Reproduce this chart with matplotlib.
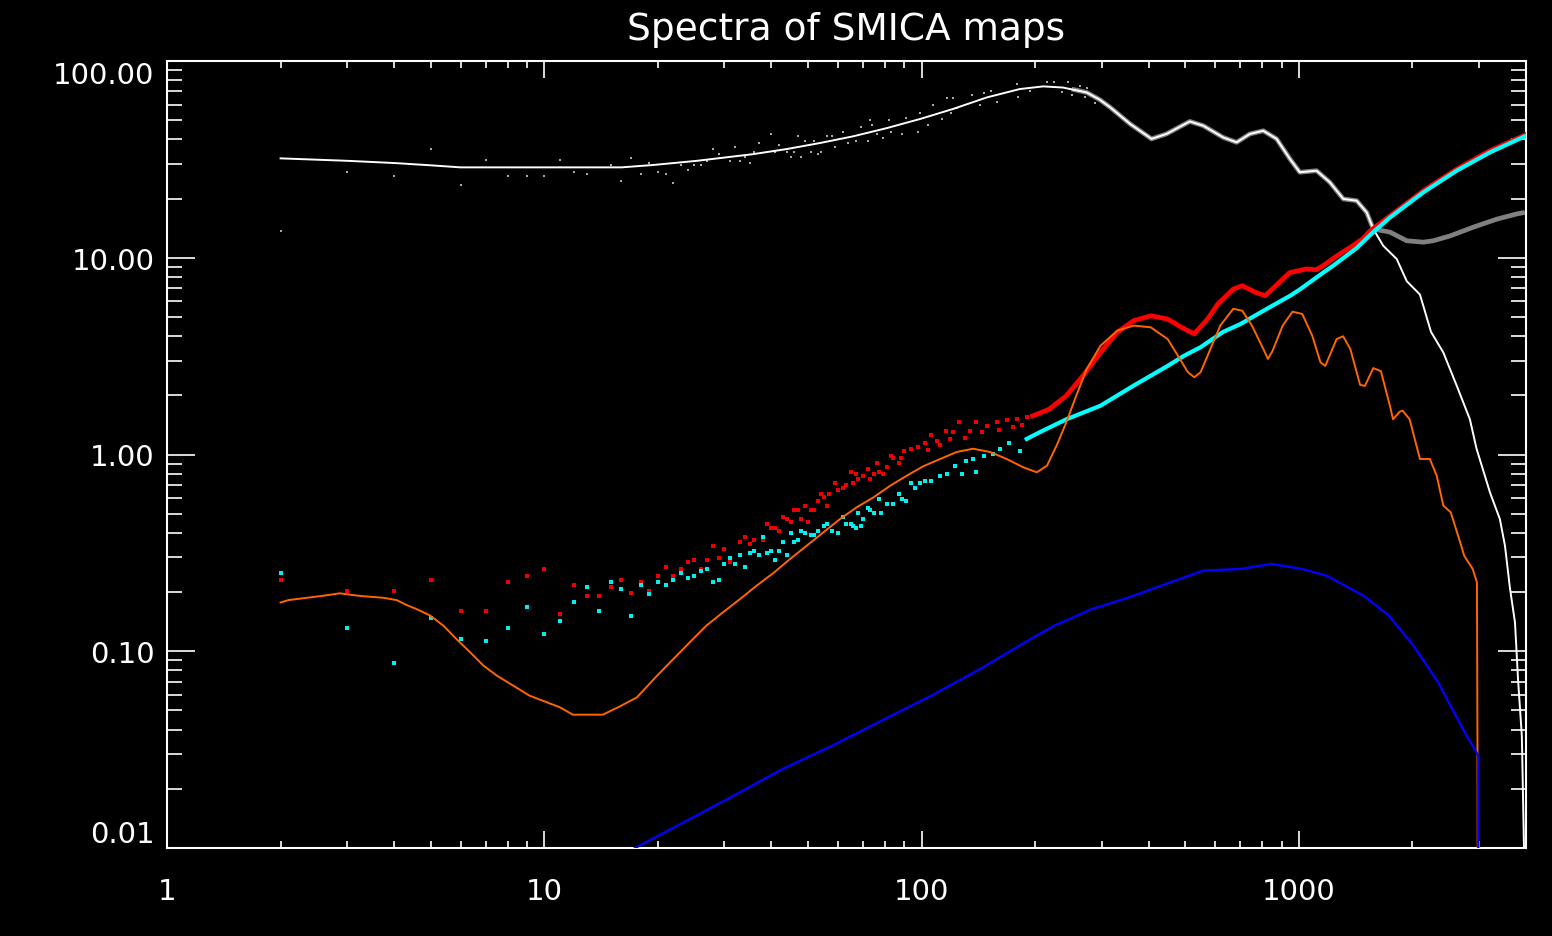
import matplotlib
matplotlib.use("Agg")
import matplotlib.pyplot as plt
from matplotlib.ticker import FixedLocator, NullFormatter, LogLocator

# ---------------- data ----------------
# TT theory (white line)
tt_theory_ell = [2, 3, 4, 5, 6, 10, 16, 19.4, 25.4, 29.2, 35.7, 44, 53.8, 65.8, 80.9, 99, 121, 149,
                 182, 210, 237, 274, 297, 316, 357, 407, 446, 514, 558, 630, 684, 742, 805, 873,
                 947, 1006, 1114, 1208, 1312, 1423, 1513, 1575, 1674, 1817, 1932, 2094, 2240, 2415,
                 2620, 2840, 2958, 3209, 3410, 3518, 3626, 3740, 3810, 3900, 3935, 3960]
tt_theory_val = [32.0, 31.1, 30.3, 29.5, 28.8, 28.8, 28.8, 29.6, 31.1, 32.1, 33.6, 35.7, 38.3, 41.4,
                 45.6, 50.7, 57.0, 65.3, 72.0, 74.3, 73.3, 69.2, 63.5, 58.2, 47.9, 40.2, 42.6, 49.3,
                 46.9, 40.9, 38.6, 42.6, 44.2, 40.2, 31.8, 27.2, 27.7, 24.2, 19.9, 19.5, 17.0, 14.0,
                 11.5, 9.86, 7.6, 6.5, 4.2, 3.3, 2.24, 1.51, 1.07, 0.643, 0.47, 0.344, 0.21, 0.14,
                 0.072, 0.037, 0.0152, 0.008]

# TT data, low-ell scattered points (grey dots)
tt_data_ell = [2, 3, 4, 5, 6, 7, 8, 9, 10, 11, 12, 13, 15, 16, 17, 18, 19, 20, 21, 22, 23, 24, 25,
               26, 27, 28, 29, 31, 32, 33, 34, 35, 36, 37, 40, 41, 42, 44, 45, 46, 47, 48, 49, 51,
               52, 53, 54, 56, 58, 59, 62, 64, 67, 69, 72, 73, 74, 76, 79, 82, 83, 89, 91, 98, 99,
               104, 107, 113, 117, 120, 121, 124, 136, 143, 146, 153, 158, 179, 180, 194, 215,
               224, 235, 245, 250, 263, 271, 274, 289]
tt_data_val = [13.7, 27.4, 25.9, 35.7, 23.4, 31.3, 25.9, 25.9, 25.9, 31.3, 27.4, 26.7, 29.6, 24.6,
               32.0, 26.5, 30.3, 27.4, 26.5, 23.9, 29.6, 28.0, 29.6, 29.6, 31.0, 35.7, 33.6, 31.1,
               36.4, 31.1, 32.7, 30.3, 34.6, 38.3, 42.6, 34.6, 37.4, 34.6, 32.7, 34.6, 41.4, 32.7,
               39.4, 34.6, 39.4, 33.6, 34.6, 41.4, 41.4, 36.4, 43.7, 38.3, 39.4, 46.0, 39.4, 50.0,
               47.3, 42.6, 40.5, 50.0, 43.7, 42.6, 51.1, 43.7, 54.1, 47.3, 60.1, 50.7, 65.1, 54.1,
               65.1, 58.0, 67.2, 60.1, 68.7, 70.6, 61.6, 76.4, 65.3, 70.6, 78.4, 77.8, 69.2, 78.4,
               67.2, 74.8, 65.3, 73.3, 61.1]

# TT data, dense high-ell band (grey)
tt_band_ell = [250, 274, 297, 316, 357, 407, 446, 514, 558, 630, 684, 742, 805, 873, 947, 1006,
               1114, 1208, 1312, 1423, 1513, 1575, 1674, 1743, 1932, 2137, 2271, 2514, 2900, 3343,
               3780, 3970]
tt_band_val = [72.0, 69.2, 63.5, 58.2, 47.9, 40.2, 42.6, 49.3, 46.9, 40.9, 38.6, 42.6, 44.2, 40.2,
               31.8, 27.2, 27.7, 24.2, 19.9, 19.5, 17.0, 14.0, 13.7, 13.5, 12.2, 12.0, 12.2, 12.9,
               14.3, 15.7, 16.7, 17.0]

# red data points (low ell)
red_ell = [2, 3, 4, 5, 6, 7, 8, 9, 10, 11, 12, 13, 14, 15, 16, 17, 18, 19, 20, 21, 22, 23, 24, 25,
           26, 27, 28, 29, 30, 31, 33, 34, 35, 36, 38, 39, 40, 41, 42, 43, 44, 45, 46, 47, 48, 49,
           50, 51, 52, 53, 54, 55, 56, 57, 59, 60, 62, 63, 65, 66, 67, 68, 70, 72, 73, 75, 76, 77,
           79, 81, 83, 84, 87, 88, 90, 94, 98, 102, 104, 106, 110, 112, 116, 119, 121, 126, 130,
           134, 139, 145, 149, 158, 160, 168, 175, 179, 185, 190]
red_val = [0.230, 0.202, 0.202, 0.230, 0.160, 0.160, 0.224, 0.242, 0.263, 0.155, 0.218, 0.191,
           0.191, 0.213, 0.230, 0.197, 0.224, 0.202, 0.242, 0.269, 0.242, 0.262, 0.284, 0.291,
           0.262, 0.291, 0.341, 0.299, 0.332, 0.284, 0.359, 0.379, 0.351, 0.369, 0.369, 0.443,
           0.421, 0.421, 0.410, 0.481, 0.469, 0.455, 0.520, 0.520, 0.469, 0.550, 0.455, 0.520,
           0.520, 0.578, 0.628, 0.611, 0.550, 0.628, 0.716, 0.662, 0.678, 0.697, 0.818, 0.716,
           0.795, 0.753, 0.774, 0.841, 0.753, 0.795, 0.908, 0.818, 0.795, 0.861, 0.982, 0.957,
           0.908, 0.957, 1.04, 1.07, 1.09, 1.15, 1.05, 1.25, 1.17, 1.12, 1.32, 1.20, 1.30, 1.46,
           1.22, 1.32, 1.46, 1.30, 1.40, 1.46, 1.33, 1.49, 1.38, 1.51, 1.42, 1.55]

# red dense band (mid/high ell)
red_band_ell = [197, 218, 242, 268, 298, 330, 365, 405, 449, 497, 528, 573, 610, 670, 708, 768,
                814, 869, 945, 1046, 1112, 1160, 1259, 1369, 1478, 1537, 1743, 2137, 2620, 3209,
                3970]
red_band_val = [1.57, 1.70, 1.99, 2.52, 3.30, 4.18, 4.79, 5.07, 4.88, 4.35, 4.10, 4.88, 5.82, 6.93,
                7.21, 6.67, 6.41, 7.21, 8.40, 8.77, 8.70, 9.12, 10.2, 11.3, 12.5, 13.6, 16.3, 21.9,
                28.2, 35.0, 42.0]

# cyan data points (low ell)
cyan_ell = [2, 3, 4, 5, 6, 7, 8, 9, 10, 11, 12, 13, 14, 15, 16, 17, 18, 19, 20, 21, 22, 23, 24,
            25, 26, 27, 28, 29, 30, 31, 32, 33, 34, 35, 36, 37, 38, 39, 40, 41, 42, 43, 44, 45,
            46, 47, 48, 49, 51, 52, 53, 55, 56, 58, 60, 62, 63, 65, 66, 67, 68, 69, 70, 72, 73,
            75, 77, 78, 81, 84, 87, 89, 91, 94, 96, 99, 102, 106, 112, 117, 123, 128, 131, 137,
            139, 146, 155, 161, 171, 182]
cyan_val = [0.249, 0.132, 0.0869, 0.147, 0.116, 0.113, 0.132, 0.168, 0.122, 0.143, 0.177, 0.213,
            0.160, 0.224, 0.207, 0.151, 0.218, 0.196, 0.224, 0.218, 0.230, 0.249, 0.236, 0.242,
            0.256, 0.262, 0.224, 0.230, 0.277, 0.299, 0.277, 0.307, 0.269, 0.316, 0.323, 0.307,
            0.379, 0.316, 0.323, 0.291, 0.323, 0.359, 0.307, 0.399, 0.359, 0.369, 0.410, 0.399,
            0.390, 0.390, 0.410, 0.434, 0.443, 0.410, 0.399, 0.481, 0.443, 0.443, 0.434, 0.421,
            0.506, 0.434, 0.469, 0.535, 0.520, 0.506, 0.594, 0.506, 0.562, 0.562, 0.628, 0.594,
            0.580, 0.716, 0.678, 0.716, 0.736, 0.736, 0.780, 0.795, 0.871, 0.795, 0.929, 0.949,
            0.818, 0.986, 1.01, 1.07, 1.15, 1.04]

# cyan dense band (mid/high ell)
cyan_band_ell = [190, 206, 242, 298, 365, 449, 497, 549, 630, 700, 768, 850, 947, 1006, 1160,
                 1232, 1423, 1575, 1743, 2137, 2620, 3209, 3970]
cyan_band_val = [1.20, 1.30, 1.51, 1.77, 2.24, 2.82, 3.18, 3.51, 4.20, 4.60, 5.10, 5.70, 6.40,
                 6.90, 8.40, 9.10, 11.2, 13.5, 16.0, 21.5, 27.7, 34.3, 41.4]

# orange theory line
orange_ell = [2, 2.1, 2.35, 2.57, 2.87, 3.25, 3.74, 4.06, 4.31, 4.58, 4.98, 5.40, 5.86, 6.36, 6.90,
              7.49, 8.28, 9.15, 11.0, 11.9, 14.3, 16.0, 17.6, 19.9, 22.0, 24.3, 26.9, 29.8, 33.0,
              36.5, 40.5, 44.8, 49.6, 55.0, 60.8, 67.3, 74.5, 82.5, 91.3, 101, 112, 124, 137,
              152, 168, 186, 202, 215, 228, 242, 257, 274, 298, 330, 365, 405, 449, 478, 508, 528,
              549, 583, 619, 670, 708, 751, 805, 828, 851, 906, 962, 1021, 1085, 1141, 1175, 1259,
              1310, 1369, 1453, 1496, 1575, 1650, 1743, 1777, 1850, 1884, 1966, 2094, 2224, 2320,
              2415, 2527, 2660, 2743, 2889, 2965, 2975, 2985]
orange_val = [0.177, 0.182, 0.187, 0.191, 0.197, 0.191, 0.187, 0.182, 0.172, 0.164, 0.152, 0.135,
              0.115, 0.0988, 0.0845, 0.0751, 0.0668, 0.0594, 0.0519, 0.0476, 0.0476, 0.0529,
              0.0583, 0.0751, 0.0914, 0.111, 0.135, 0.158, 0.184, 0.215, 0.250, 0.294, 0.344,
              0.403, 0.470, 0.539, 0.605, 0.693, 0.780, 0.871, 0.949, 1.03, 1.07, 1.03, 0.949,
              0.861, 0.812, 0.877, 1.11, 1.46, 1.99, 2.72, 3.57, 4.26, 4.52, 4.43, 3.86, 3.18,
              2.62, 2.47, 2.62, 3.44, 4.52, 5.50, 5.38, 4.52, 3.44, 3.06, 3.35, 4.52, 5.32, 5.18,
              4.02, 2.94, 2.82, 3.86, 3.99, 3.44, 2.26, 2.23, 2.75, 2.65, 1.77, 1.51, 1.65, 1.67,
              1.51, 0.949, 0.949, 0.780, 0.550, 0.508, 0.372, 0.306, 0.262, 0.224, 0.0307, 0.001]

# blue theory line
blue_ell = [17.4, 23.4, 31.7, 42.8, 57.9, 78.3, 106, 143, 194, 225, 283, 355, 445, 558, 700, 845,
            1019, 1185, 1487, 1730, 2011, 2339, 2721, 2990, 2992]
blue_val = [0.0100, 0.0135, 0.0184, 0.0252, 0.0331, 0.0444, 0.0594, 0.0813, 0.115, 0.135, 0.164,
            0.188, 0.220, 0.257, 0.262, 0.278, 0.262, 0.242, 0.191, 0.152, 0.107, 0.0695, 0.0403,
            0.0294, 0.001]

title_text = "Spectra of SMICA maps"
x_ticks = [1, 10, 100, 1000]
x_tick_labels = ["1", "10", "100", "1000"]
y_ticks = [0.01, 0.1, 1, 10, 100]
y_tick_labels = ["0.01", "0.10", "1.00", "10.00", "100.00"]

# ---------------- figure ----------------
W, H = 1552, 937
fig = plt.figure(figsize=(W / 100, H / 100), dpi=100, facecolor="black")
ax = fig.add_axes([167 / W, 1 - 849 / H, (1526 - 167) / W, (849 - 62) / H])
ax.set_facecolor("black")
ax.set_xscale("log")
ax.set_yscale("log")
ax.set_xlim(1, 4000)
ax.set_ylim(0.01, 100)

# grey TT data
ax.plot(tt_band_ell, tt_band_val, color="#808080", lw=3.4, zorder=2, solid_capstyle="butt")
ax.plot(tt_data_ell, tt_data_val, ls="none", marker="s", ms=1.9, mew=0, color="#a8a8a8", zorder=2)
# white TT theory
ax.plot(tt_theory_ell, tt_theory_val, color="white", lw=1.4, zorder=3)
# red
ax.plot(red_band_ell, red_band_val, color="#ff0000", lw=3.4, zorder=4)
ax.plot(red_ell, red_val, ls="none", marker="s", ms=2.5, mew=0, color="#ee0000", zorder=4)
# cyan
ax.plot(cyan_band_ell, cyan_band_val, color="#00ffff", lw=3.0, zorder=5)
ax.plot(cyan_ell, cyan_val, ls="none", marker="s", ms=2.5, mew=0, color="#00f0f0", zorder=5)
# orange
ax.plot(orange_ell, orange_val, color="#ff6600", lw=1.4, zorder=6)
# blue
ax.plot(blue_ell, blue_val, color="#0000ff", lw=1.7, zorder=7)

# axes styling
for s in ax.spines.values():
    s.set_color("white")
    s.set_linewidth(1.5)

ax.xaxis.set_major_locator(FixedLocator(x_ticks))
ax.xaxis.set_minor_locator(LogLocator(base=10, subs=range(2, 10), numticks=20))
ax.xaxis.set_minor_formatter(NullFormatter())
ax.set_xticks(x_ticks, x_tick_labels)
ax.yaxis.set_major_locator(FixedLocator(y_ticks))
ax.yaxis.set_minor_locator(LogLocator(base=10, subs=range(2, 10), numticks=20))
ax.yaxis.set_minor_formatter(NullFormatter())
ax.set_yticks(y_ticks, y_tick_labels)

ax.tick_params(axis="both", which="both", direction="in", colors="white",
               top=True, right=True, width=1.2, labelsize=21)
ax.tick_params(axis="x", which="major", length=12, pad=21)
ax.tick_params(axis="x", which="minor", length=5.3)
ax.tick_params(axis="y", which="major", length=20, pad=9)
ax.tick_params(axis="y", which="minor", length=10.5)

ylabels = ax.get_yticklabels()
ylabels[0].set_va("bottom")
ylabels[-1].set_va("top")

fig.text(846 / W, 1 - 30 / H, title_text, color="white", fontsize=27,
         ha="center", va="center")

fig.savefig("out.png", dpi=100, facecolor="black")
